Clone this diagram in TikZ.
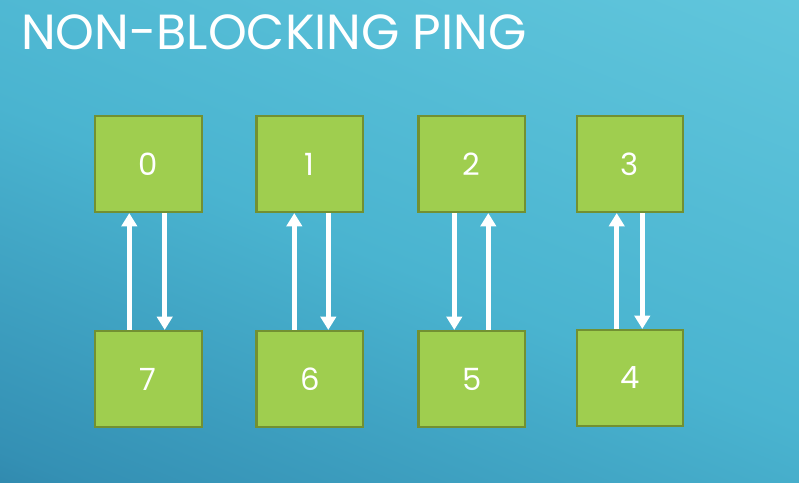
\documentclass[tikz,border=0pt]{standalone}
\usepackage{fontspec}
\usepackage{tikz}
\usetikzlibrary{arrows.meta}
\newfontfamily\slidefont{Poppins}

\definecolor{bgdark}{RGB}{28,100,140}
\definecolor{bgmid}{RGB}{52,144,180}
\definecolor{bgmain}{RGB}{74,180,208}
\definecolor{bglight}{RGB}{108,207,226}
\definecolor{rankfill}{RGB}{159,206,79}
\definecolor{rankedge}{RGB}{114,144,50}

\pgfdeclareverticalshading{slidebg}{100bp}{color(0bp)=(bgdark); color(20bp)=(bgmid); color(48bp)=(bgmain); color(100bp)=(bglight)}

\tikzset{
  rank/.style={draw=rankedge, line width=1.6pt, fill=rankfill, minimum width=80pt, minimum height=72pt, inner sep=0pt, text=white, font=\slidefont\fontsize{23}{26}\selectfont},
  msg/.style={draw=white, line width=3.75pt, -{Triangle[length=10pt,width=11.5pt]}}
}

\begin{document}
\begin{tikzpicture}[x=0.75pt,y=0.75pt,yscale=-1,xscale=1]
\useasboundingbox (0,0) rectangle (799,482);

%Shape: Background
\shade [shading=slidebg, shading angle=-22] (0,0) rectangle (799,482);

% Text Node
\node [anchor=base west, inner sep=0pt, text=white, font=\slidefont\fontsize{37}{40}\selectfont] (title) at (21,49) {NON-BLOCKING PING};

%Shape: Rectangle (top row)
\node [rank] (r0) at (148.3,164) {0};
\node [rank] (r1) at (309.8,164) {1};
\node [rank] (r2) at (471.8,164) {2};
\node [rank] (r3) at (630,164) {3};
%Shape: Rectangle (bottom row)
\node [rank] (r7) at (148.3,379) {7};
\node [rank] (r6) at (309.8,379) {6};
\node [rank] (r5) at (471.8,379) {5};
\node [rank] (r4) at (630,378) {4};

%Straight Lines (up / down pairs)
\draw [msg] ([xshift=-19*0.75pt]r7.north) -- ([xshift=-19*0.75pt]r0.south);
\draw [msg] ([xshift=16.4*0.75pt]r0.south) -- ([xshift=16.4*0.75pt]r7.north);
\draw [msg] ([xshift=-15.5*0.75pt]r6.north) -- ([xshift=-15.5*0.75pt]r1.south);
\draw [msg] ([xshift=18.5*0.75pt]r1.south) -- ([xshift=18.5*0.75pt]r6.north);
\draw [msg] ([xshift=-17.5*0.75pt]r2.south) -- ([xshift=-17.5*0.75pt]r5.north);
\draw [msg] ([xshift=16.5*0.75pt]r5.north) -- ([xshift=16.5*0.75pt]r2.south);
\draw [msg] ([xshift=-13.3*0.75pt]r4.north) -- ([xshift=-13.3*0.75pt]r3.south);
\draw [msg] ([xshift=12.3*0.75pt]r3.south) -- ([xshift=12.3*0.75pt]r4.north);

\end{tikzpicture}
\end{document}
